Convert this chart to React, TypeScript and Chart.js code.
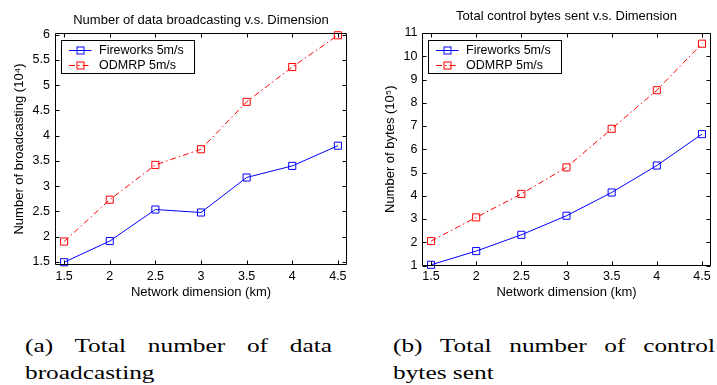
import React, { useEffect, useRef } from "react";
import { Chart, registerables } from "chart.js";

Chart.register(...registerables);

// ---------- data ----------
const dimensions = [1.5, 2, 2.5, 3, 3.5, 4, 4.5];
const seriesLabels = ["Fireworks 5m/s", "ODMRP 5m/s"];

const broadcastFireworks = [1.49, 1.91, 2.535, 2.476, 3.17, 3.4, 3.8];
const broadcastOdmrp = [1.9, 2.73, 3.42, 3.73, 4.67, 5.36, 5.99];

const bytesFireworks = [1.03, 1.62, 2.32, 3.14, 4.14, 5.3, 6.65];
const bytesOdmrp = [2.05, 3.07, 4.08, 5.22, 6.88, 8.54, 10.54];

const xTicks = [1.5, 2, 2.5, 3, 3.5, 4, 4.5];
const yTicksBroadcast = [1.5, 2, 2.5, 3, 3.5, 4, 4.5, 5, 5.5, 6];
const yTicksBytes = [1, 2, 3, 4, 5, 6, 7, 8, 9, 10, 11];

const FONT = "'Liberation Sans', Arial, Helvetica, sans-serif";

// ---------- plugins ----------
const matlabFrame = {
  id: "matlabFrame",
  afterDatasetsDraw(chart: any) {
    const { ctx, chartArea: a, scales } = chart;
    const L = Math.round(a.left) + 0.5;
    const R = Math.round(a.right) - 0.5;
    const T = Math.round(a.top) + 0.5;
    const B = Math.round(a.bottom) - 0.5;
    const len = 4;
    ctx.save();
    ctx.strokeStyle = "#000";
    ctx.lineWidth = 1;
    ctx.beginPath();
    ctx.rect(L, T, R - L, B - T);
    for (const t of scales.x.ticks) {
      const px = Math.round(scales.x.getPixelForValue(t.value)) + 0.5;
      ctx.moveTo(px, B);
      ctx.lineTo(px, B - len);
      ctx.moveTo(px, T);
      ctx.lineTo(px, T + len);
    }
    for (const t of scales.y.ticks) {
      const py = Math.round(scales.y.getPixelForValue(t.value)) + 0.5;
      ctx.moveTo(L, py);
      ctx.lineTo(L + len, py);
      ctx.moveTo(R, py);
      ctx.lineTo(R - len, py);
    }
    ctx.stroke();
    ctx.restore();
  },
};

const matlabLegend = {
  id: "matlabLegend",
  afterDraw(chart: any) {
    const opts = chart.options.plugins.matlabLegend || {};
    const { ctx, chartArea: a } = chart;
    const x0 = Math.round(a.left + (opts.dx ?? 6)) + 0.5;
    const y0 = Math.round(a.top + (opts.dy ?? 7)) + 0.5;
    const w = opts.width ?? 133;
    const h = opts.height ?? 33;
    ctx.save();
    ctx.fillStyle = "#fff";
    ctx.fillRect(x0, y0, w, h);
    ctx.strokeStyle = "#000";
    ctx.lineWidth = 1;
    ctx.strokeRect(x0, y0, w, h);
    ctx.font = `12.5px ${FONT}`;
    ctx.textBaseline = "middle";
    ctx.textAlign = "left";
    const rows = [9.5, 24.5];
    chart.data.datasets.forEach((ds: any, i: number) => {
      const cy = Math.round(y0 + rows[i]) + 0.5;
      ctx.strokeStyle = ds.borderColor;
      ctx.lineWidth = 1;
      ctx.setLineDash(ds.borderDash || []);
      ctx.beginPath();
      ctx.moveTo(x0 + 7.5, cy);
      ctx.lineTo(x0 + 30, cy);
      ctx.stroke();
      ctx.setLineDash([]);
      const s = 3.5;
      const mx = Math.round(x0 + 18.75) + 0.5;
      ctx.strokeRect(mx - s, cy - s, 2 * s, 2 * s);
      ctx.fillStyle = "#000";
      ctx.fillText(ds.label, x0 + 37.5, cy + 0.5);
    });
    ctx.restore();
  },
};

type Cfg = {
  width: number;
  height: number;
  title: string;
  titlePad: { top: number; bottom: number };
  yTitle: string;
  yTitlePad: number;
  yWidth: number;
  yTickPad: number;
  xHeight: number;
  rightPad: number;
  yMin: number;
  yMax: number;
  yTicks: number[];
  fireworks: number[];
  odmrp: number[];
  legend: { dx: number; dy: number; width: number; height: number };
};

function MatlabChart({ cfg }: { cfg: Cfg }) {
  const ref = useRef<HTMLCanvasElement>(null);
  useEffect(() => {
    if (!ref.current) return;
    const chart = new Chart(ref.current, {
      type: "line",
      data: {
        datasets: [
          {
            label: seriesLabels[0],
            data: dimensions.map((d, i) => ({ x: d, y: cfg.fireworks[i] })),
            borderColor: "#0000ff",
            backgroundColor: "transparent",
            borderWidth: 1,
            pointStyle: "rect",
            pointRadius: 5,
            pointHoverRadius: 5,
            pointBorderWidth: 1,
            pointBorderColor: "#0000ff",
            pointBackgroundColor: "transparent",
            tension: 0,
            clip: false as any,
          },
          {
            label: seriesLabels[1],
            data: dimensions.map((d, i) => ({ x: d, y: cfg.odmrp[i] })),
            borderColor: "#ff0000",
            backgroundColor: "transparent",
            borderWidth: 1,
            borderDash: [6, 3, 1.5, 3],
            pointStyle: "rect",
            pointRadius: 5,
            pointHoverRadius: 5,
            pointBorderWidth: 1,
            pointBorderColor: "#ff0000",
            pointBackgroundColor: "transparent",
            tension: 0,
            clip: false as any,
          },
        ],
      },
      options: {
        animation: false,
        responsive: false,
        maintainAspectRatio: false,
        devicePixelRatio: 1,
        events: [],
        layout: { padding: { left: 0, right: cfg.rightPad, top: 0, bottom: 0 } },
        plugins: {
          legend: { display: false },
          tooltip: { enabled: false },
          title: {
            display: true,
            text: cfg.title,
            fullSize: false,
            color: "#000",
            font: { family: FONT, size: 13, weight: "normal" as any, lineHeight: 1.2 },
            padding: cfg.titlePad,
          },
          matlabLegend: cfg.legend,
        } as any,
        scales: {
          x: {
            type: "linear",
            min: 1.4,
            max: 4.6,
            afterBuildTicks: (s: any) => {
              s.ticks = xTicks.map((v) => ({ value: v }));
            },
            afterFit: (s: any) => {
              s.height = cfg.xHeight;
            },
            grid: { display: false, drawTicks: false },
            border: { display: false },
            ticks: {
              padding: 4,
              color: "#000",
              autoSkip: false,
              maxRotation: 0,
              font: { family: FONT, size: 12.5 },
              callback: (v: any) => String(v),
            },
            title: {
              display: true,
              text: "Network dimension (km)",
              color: "#000",
              font: { family: FONT, size: 13, lineHeight: 1.2 },
              padding: { top: 0, bottom: 0 },
            },
          },
          y: {
            type: "linear",
            min: cfg.yMin,
            max: cfg.yMax,
            afterBuildTicks: (s: any) => {
              s.ticks = cfg.yTicks.map((v) => ({ value: v }));
            },
            afterFit: (s: any) => {
              s.width = cfg.yWidth;
            },
            grid: { display: false, drawTicks: false },
            border: { display: false },
            ticks: {
              padding: cfg.yTickPad,
              color: "#000",
              autoSkip: false,
              font: { family: FONT, size: 12.5 },
              callback: (v: any) => String(v),
            },
            title: {
              display: true,
              text: cfg.yTitle,
              color: "#000",
              font: { family: FONT, size: 13, lineHeight: 1.2 },
              padding: { top: cfg.yTitlePad, bottom: 0 },
            },
          },
        },
      },
      plugins: [matlabFrame, matlabLegend],
    } as any);
    return () => chart.destroy();
  }, [cfg]);
  return (
    <canvas
      ref={ref}
      width={cfg.width}
      height={cfg.height}
      style={{ width: cfg.width, height: cfg.height, display: "block" }}
    />
  );
}

const leftCfg: Cfg = {
  width: 357,
  height: 300,
  title: "Number of data broadcasting v.s. Dimension",
  titlePad: { top: 12.7, bottom: 4.7 },
  yTitle: "Number of broadcasting (10\u2074)",
  yTitlePad: 11.5,
  yWidth: 55,
  yTickPad: 5,
  xHeight: 35,
  rightPad: 10,
  yMin: 1.435,
  yMax: 6.035,
  yTicks: yTicksBroadcast,
  fireworks: broadcastFireworks,
  odmrp: broadcastOdmrp,
  legend: { dx: 6, dy: 7, width: 133, height: 33 },
};

const rightCfg: Cfg = {
  width: 360,
  height: 300,
  title: "Total control bytes sent v.s. Dimension",
  titlePad: { top: 9, bottom: 8.4 },
  yTitle: "Number of bytes (10\u2075)",
  yTitlePad: 26,
  yWidth: 65,
  yTickPad: 4.5,
  xHeight: 34.5,
  rightPad: 1,
  yMin: 1,
  yMax: 11,
  yTicks: yTicksBytes,
  fireworks: bytesFireworks,
  odmrp: bytesOdmrp,
  legend: { dx: 6, dy: 7, width: 133, height: 33 },
};

const captionFont = "'Liberation Serif', 'Times New Roman', serif";
const CAP_SCALE = 1.3;

function Caption({ left, top, width, line1, line2 }: { left: number; top: number; width: number; line1: string; line2: string }) {
  const common: React.CSSProperties = {
    position: "absolute",
    left,
    fontFamily: captionFont,
    fontSize: 19.5,
    lineHeight: "20px",
    color: "#000",
    transform: `scaleX(${CAP_SCALE})`,
    transformOrigin: "0 0",
    whiteSpace: "nowrap",
  };
  return (
    <>
      <div style={{ ...common, top, width: width / CAP_SCALE, textAlign: "justify", textAlignLast: "justify" as any }}>{line1}</div>
      <div style={{ ...common, top: top + 27.7 }}>{line2}</div>
    </>
  );
}

export default function App() {
  return (
    <div style={{ position: "fixed", left: 0, top: 0, width: 717, height: 385, background: "#fff", overflow: "hidden" }}>
      <div style={{ position: "absolute", left: 0, top: 0 }}>
        <MatlabChart cfg={leftCfg} />
      </div>
      <div style={{ position: "absolute", left: 357, top: 0 }}>
        <MatlabChart cfg={rightCfg} />
      </div>
      <Caption left={25} top={335.5} width={307} line1="(a) Total number of data" line2="broadcasting" />
      <Caption left={393} top={335.5} width={322} line1="(b) Total number of control" line2="bytes sent" />
    </div>
  );
}
